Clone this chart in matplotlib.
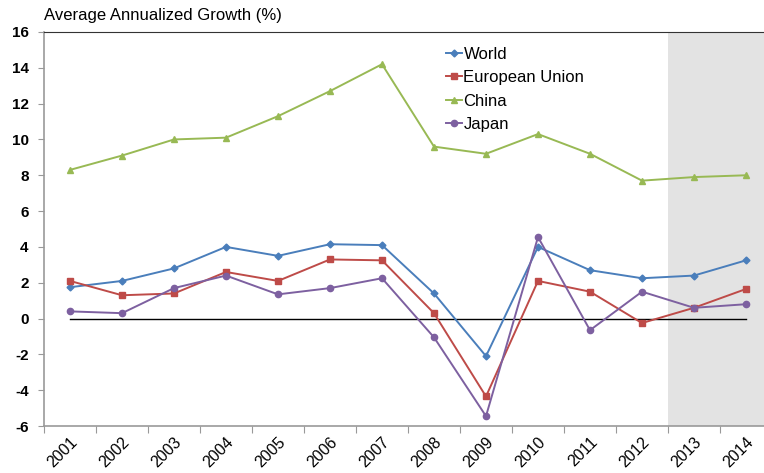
import matplotlib
matplotlib.use("Agg")
import matplotlib.pyplot as plt
import numpy as np

plt.rcParams['font.family'] = ['Liberation Sans', 'DejaVu Sans']

years = ['2001', '2002', '2003', '2004', '2005', '2006', '2007', '2008', '2009',
         '2010', '2011', '2012', '2013', '2014']
world = [1.75, 2.1, 2.8, 4.0, 3.5, 4.15, 4.1, 1.4, -2.1, 4.0, 2.7, 2.25, 2.4, 3.25]
eu = [2.1, 1.3, 1.4, 2.6, 2.1, 3.3, 3.25, 0.3, -4.35, 2.1, 1.5, -0.25, 0.6, 1.65]
china = [8.3, 9.1, 10.0, 10.1, 11.3, 12.7, 14.2, 9.6, 9.2, 10.3, 9.2, 7.7, 7.9, 8.0]
japan = [0.4, 0.3, 1.7, 2.4, 1.35, 1.7, 2.25, -1.05, -5.45, 4.55, -0.65, 1.5, 0.6, 0.8]
yticks = list(range(-6, 17, 2))

fig = plt.figure(figsize=(7.64, 4.73), dpi=100)
ax = fig.add_axes([44/764, 1-426/473, (772-44)/764, (426-32)/473])

x = np.arange(len(years))
ax.set_xlim(-0.5, len(years)-0.5)
ax.set_ylim(-6, 16)

# shaded projection region
ax.axvspan(11.5, 13.5, color='#e3e3e3', zorder=0, lw=0)

# zero line
ax.plot([x[0], x[-1]], [0, 0], color='black', lw=1.0, zorder=1)

series = [
    ('World', world, '#4a7ebb', 'D', 3.5),
    ('European Union', eu, '#be4b48', 's', 4.5),
    ('China', china, '#98b954', '^', 5),
    ('Japan', japan, '#7d60a0', 'o', 4.5),
]
for name, vals, col, mk, ms in series:
    ax.plot(x, vals, color=col, marker=mk, markersize=ms, lw=1.4, label=name, zorder=3)

ax.set_xticks(np.arange(-0.5, len(years), 1), minor=False)
ax.set_xticklabels([])
ax.set_xticks(x, minor=True)
ax.set_xticklabels(years, minor=True, rotation=45, ha='right', va='top',
                   fontsize=11.5, rotation_mode='anchor')
ax.tick_params(axis='x', which='minor', length=0, pad=6)
ax.tick_params(axis='x', which='major', length=5, color='#999999', direction='out')

ax.set_yticks(yticks)
ax.set_yticklabels([str(t) for t in yticks], fontsize=11, fontweight='bold')
ax.tick_params(axis='y', length=4, color='#999999', direction='out', pad=7)

for s in ['left', 'bottom']:
    ax.spines[s].set_color('#999999')
    ax.spines[s].set_linewidth(1.2)
ax.spines['top'].set_color('#333333')
ax.spines['right'].set_visible(False)

fig.text(44/764, 1-20/473, 'Average Annualized Growth (%)', fontsize=12, ha='left', va='baseline')

leg = ax.legend(loc='upper left', bbox_to_anchor=((446-44)/728, 1-(47-32)/394), frameon=False,
                fontsize=12, handlelength=0.95, handletextpad=0.1, labelspacing=0.5,
                borderaxespad=0, borderpad=0)

fig.savefig('out.png', dpi=100)
